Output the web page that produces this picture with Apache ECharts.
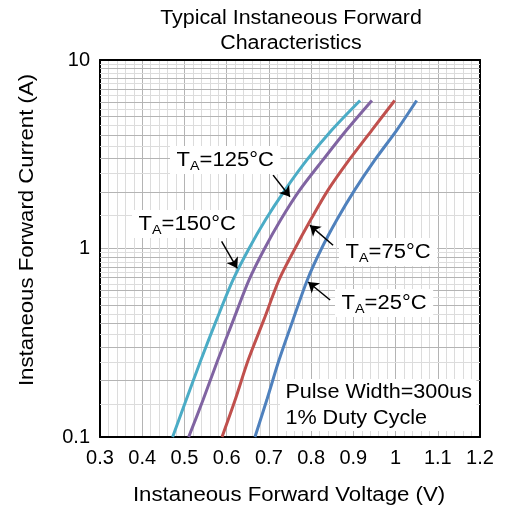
<!DOCTYPE html>
<html><head><meta charset="utf-8">
<script src="https://cdn.jsdelivr.net/npm/echarts/dist/echarts.min.js"></script>
<style>html,body{margin:0;padding:0;background:#fff}#c{width:510px;height:512px}</style>
</head><body><div id="c"></div>
<script>
// Forward current levels (A) at which the voltage of each curve was read
const currentLevels = [0.1, 0.157, 0.256, 0.418, 0.681, 0.982, 1.42, 2.04, 2.95, 4.25, 6.1];
// Forward voltage (V) per ambient temperature at those current levels
const v150 = [0.472, 0.504, 0.539, 0.576, 0.615, 0.651, 0.692, 0.738, 0.790, 0.849, 0.916];
const v125 = [0.510, 0.544, 0.579, 0.616, 0.653, 0.688, 0.728, 0.773, 0.828, 0.884, 0.944];
const v75  = [0.589, 0.620, 0.651, 0.688, 0.724, 0.760, 0.799, 0.840, 0.890, 0.944, 0.998];
const v25  = [0.667, 0.695, 0.724, 0.757, 0.791, 0.823, 0.861, 0.903, 0.951, 1.003, 1.050];

const seriesNames = ['TA=150°C', 'TA=125°C', 'TA=75°C', 'TA=25°C'];
const seriesColors = ['#4bacc6', '#8064a2', '#c0504d', '#4f81bd'];

// axis ranges / tick values
const xMin = 0.3, xMax = 1.2, xStep = 0.1;
const yMin = 0.1, yMax = 10;
const yGridMajor = [0.2, 0.3, 0.4, 0.5, 0.6, 0.7, 0.8, 0.9, 2, 3, 4, 5, 6, 7, 8, 9];
const yGridMinor = [0.15, 0.25, 0.35, 0.45, 0.55, 0.65, 0.75, 0.85, 0.95, 1.5, 2.5, 3.5, 4.5, 5.5, 6.5, 7.5, 8.5, 9.5];

// annotation arrows: [from V, from I, to V, to I]
const arrow150 = [0.588, 1.09, 0.625, 0.785];
const arrow125 = [0.710, 2.45, 0.750, 1.88];
const arrow75 = [0.852, 1.04, 0.797, 1.33];
const arrow25 = [0.845, 0.533, 0.793, 0.664];

const zip = (xs, ys) => xs.map((x, k) => [x, ys[k]]);
const FF = '"Liberation Sans", Arial, sans-serif';

const curves = [v150, v125, v75, v25].map((vs, k) => ({
  name: seriesNames[k], type: 'line', data: zip(vs, currentLevels), smooth: 0.3,
  showSymbol: false, symbol: 'none', z: 4,
  lineStyle: { color: seriesColors[k], width: 3 }, itemStyle: { color: seriesColors[k] }
}));

const arrowLine = a => [{ coord: [a[0], a[1]] }, { coord: [a[2], a[3]] }];

const chart = echarts.init(document.getElementById('c'), null, { renderer: 'canvas' });
const subLabel = (txt, x, y) => ({
  type: 'text', x: x, y: y, z: 100, scaleX: 1.1,
  style: {
    text: 'T{s|A}=' + txt, fontSize: 20, fontFamily: FF, fill: '#000', lineHeight: 24,
    align: 'left', verticalAlign: 'middle', backgroundColor: '#fff', padding: [1, 6, 1, 6],
    rich: { s: { fontSize: 13, fontFamily: FF, fill: '#000', verticalAlign: 'bottom', lineHeight: 26 } }
  }
});

chart.setOption({
  animation: false,
  backgroundColor: '#fff',
  grid: { left: 100, right: 30, top: 60, bottom: 75 },
  xAxis: [{
    type: 'value', min: xMin, max: xMax, interval: xStep,
    axisLine: { show: true, onZero: false, lineStyle: { color: '#000', width: 2 } },
    axisTick: { show: false },
    axisLabel: { color: '#000', fontSize: 20, fontFamily: FF, margin: 11 },
    splitLine: { show: true, lineStyle: { color: '#b4b4b4', width: 1 } },
    minorTick: { show: false, splitNumber: 5 },
    minorSplitLine: { show: true, lineStyle: { color: '#dcdcdc', width: 1 } }
  }, {
    type: 'value', min: xMin, max: xMax, position: 'top',
    axisLine: { show: true, onZero: false, lineStyle: { color: '#000', width: 2 } },
    axisTick: { show: false }, axisLabel: { show: false }, splitLine: { show: false }
  }],
  yAxis: [{
    type: 'log', logBase: 10, min: yMin, max: yMax,
    axisLine: { show: true, onZero: false, lineStyle: { color: '#000', width: 2 } },
    axisTick: { show: false },
    axisLabel: { color: '#000', fontSize: 20, fontFamily: FF, margin: 10 },
    splitLine: { show: true, lineStyle: { color: '#b4b4b4', width: 1 } }
  }, {
    type: 'log', logBase: 10, min: yMin, max: yMax, position: 'right',
    axisLine: { show: true, onZero: false, lineStyle: { color: '#000', width: 2 } },
    axisTick: { show: false }, axisLabel: { show: false }, splitLine: { show: false }
  }],
  series: [
    {
      type: 'line', data: [], z: 1, silent: true,
      markLine: {
        z: 1, silent: true, symbol: 'none', animation: false, label: { show: false },
        lineStyle: { color: '#dcdcdc', width: 1, type: 'solid' },
        data: yGridMinor.map(v => ({ yAxis: v }))
      }
    },
    {
      type: 'line', data: [], z: 1, silent: true,
      markLine: {
        z: 1, silent: true, symbol: 'none', animation: false, label: { show: false },
        lineStyle: { color: '#b4b4b4', width: 1, type: 'solid' },
        data: yGridMajor.map(v => ({ yAxis: v }))
      }
    },
    ...curves,
    {
      type: 'line', data: [], z: 6, silent: true,
      markLine: {
        z: 6, silent: true, symbol: ['none', 'arrow'], symbolSize: 10, animation: false,
        label: { show: false },
        lineStyle: { color: '#000', width: 1.5, type: 'solid' },
        data: [arrowLine(arrow150), arrowLine(arrow125), arrowLine(arrow75), arrowLine(arrow25)]
      }
    }
  ],
  graphic: [
    { type: 'text', x: 291, y: 18, scaleX: 1.07, style: { text: 'Typical Instaneous Forward', fontSize: 20, fontFamily: FF, fill: '#000', align: 'center', verticalAlign: 'middle' } },
    { type: 'text', x: 291, y: 43, scaleX: 1.07, style: { text: 'Characteristics', fontSize: 20, fontFamily: FF, fill: '#000', align: 'center', verticalAlign: 'middle' } },
    { type: 'text', x: 27, y: 230, rotation: Math.PI / 2, scaleX: 1.11, style: { text: 'Instaneous Forward Current (A)', fontSize: 20, fontFamily: FF, fill: '#000', align: 'center', verticalAlign: 'middle' } },
    { type: 'text', x: 289, y: 495, scaleX: 1.11, style: { text: 'Instaneous Forward Voltage (V)', fontSize: 20, fontFamily: FF, fill: '#000', align: 'center', verticalAlign: 'middle' } },
    subLabel('125°C', 170, 160),
    subLabel('150°C', 132, 224),
    subLabel('75°C', 339, 252),
    subLabel('25°C', 335, 303),
    { type: 'text', x: 280, y: 405, z: 100, scaleX: 1.08, style: { text: 'Pulse Width=300us\n1% Duty Cycle', fontSize: 20, fontFamily: FF, fill: '#000', lineHeight: 26, align: 'left', verticalAlign: 'middle', backgroundColor: '#fff', padding: [0, 4, 0, 5] } }
  ]
});
</script></body></html>
